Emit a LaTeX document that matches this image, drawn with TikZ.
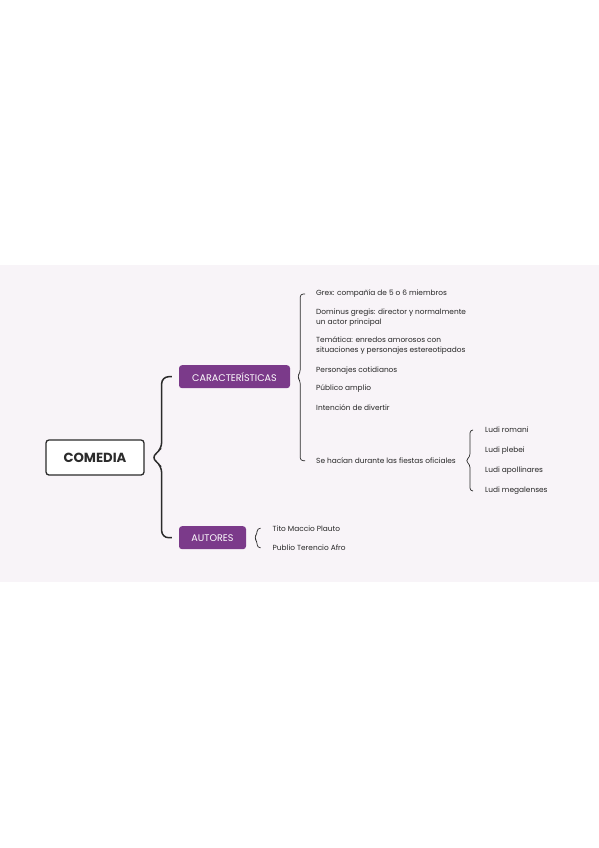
\documentclass[tikz,border=0pt]{standalone}
\usepackage{fontspec}
\setmainfont{Poppins}
\definecolor{morado}{HTML}{7B3A8A}
\definecolor{fondo}{HTML}{F8F4F8}
\definecolor{tinta}{HTML}{2B2B2B}
\usetikzlibrary{calc, positioning}

\begin{document}
\begin{tikzpicture}[x=1pt, y=-1pt,
  raiz/.style={draw=tinta, line width=1.3pt, fill=white, rounded corners=3pt,
               minimum width=98pt, minimum height=35pt,
               font=\fontsize{13.2}{15}\selectfont\bfseries, text=tinta},
  rama/.style={fill=morado, rounded corners=3pt, minimum height=23pt,
               font=\fontsize{9.6}{11}\selectfont, text=white, inner sep=0pt},
  hoja/.style={anchor=west, inner sep=0pt, align=left,
               font=\fontsize{7.4}{10}\selectfont, text=black!85},
  llave/.style={draw=tinta, line width=1.5pt, rounded corners=7pt},
  llavita/.style={draw=tinta, line width=0.7pt, rounded corners=3pt},
]
\useasboundingbox (0,0) rectangle (599,848);
\fill[fondo] (0,265) rectangle (599,582);

% nodos principales
\node[raiz] (comedia) at (95,457.5) {COMEDIA};
\node[rama, minimum width=111pt] (car) at (234.5,376.7) {CARACTERÍSTICAS};
\node[rama, minimum width=67pt] (aut) at (212.5,537.7) {AUTORES};

% características
\node[hoja] (grex) at (316,294) {Grex: compañía de 5 o 6 miembros};
\node[hoja] (dominus) at (316,317.3) {Dominus gregis: director y normalmente\\un actor principal};
\node[hoja] (tematica) at (316,346) {Temática: enredos amorosos con\\situaciones y personajes estereotipados};
\node[hoja] (cotid) at (316,370.7) {Personajes cotidianos};
\node[hoja] (publico) at (316,388.7) {Público amplio};
\node[hoja] (divertir) at (316,408) {Intención de divertir};
\node[hoja] (fiestas) at (316,460.7) {Se hacían durante las fiestas oficiales};

% fiestas
\node[hoja] (romani) at (485,430) {Ludi romani};
\node[hoja] (plebei) at (485,450.5) {Ludi plebei};
\node[hoja] (apoll) at (485,470.5) {Ludi apollinares};
\node[hoja] (megal) at (485,491) {Ludi megalenses};

% autores
\node[hoja] (plauto) at (272.5,528.3) {Tito Maccio Plauto};
\node[hoja] (terencio) at (272.5,547.7) {Publio Terencio Afro};

% llaves
\coordinate (m) at ($(comedia.east)+(17,0)$);
\draw[llave] ($(car.west)+(-7,0)$) -- (m |- car.west) -- ($(m)+(0,-8)$)
  -- ($(comedia.east)+(6,0)$) -- ($(m)+(0,8)$) -- (m |- aut.west) -- ($(aut.west)+(-7,0)$);

\coordinate (c) at ($(car.east)+(10,0)$);
\draw[llavita] ($(grex.west)+(-11,0)$) -- (c |- grex.west) -- ($(c)+(0,-4)$)
  -- ($(car.east)+(7,0)$) -- ($(c)+(0,4)$) -- (c |- fiestas.west) -- ($(fiestas.west)+(-11,0)$);

\coordinate (l) at ($(romani.west |- fiestas.west)+(-15,0)$);
\draw[llavita] ($(romani.west)+(-12,0)$) -- (l |- romani.west) -- ($(l)+(0,-4)$)
  -- ($(l)+(-4.5,0)$) -- ($(l)+(0,4)$) -- (l |- megal.west) -- ($(megal.west)+(-12,0)$);

\coordinate (a) at ($(aut.east)+(11,0)$);
\draw[llavita] ($(plauto.west)+(-12,0)$) -- (a |- plauto.west) -- ($(a)+(0,-4)$)
  -- ($(aut.east)+(8,0)$) -- ($(a)+(0,4)$) -- (a |- terencio.west) -- ($(terencio.west)+(-12,0)$);
\end{tikzpicture}
\end{document}
